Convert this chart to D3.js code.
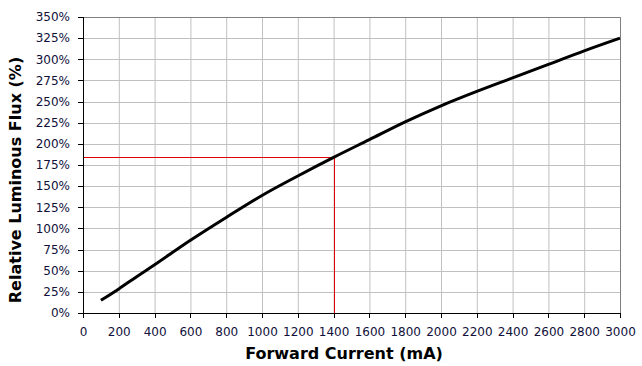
<!DOCTYPE html>
<html>
<head>
<meta charset="utf-8">
<script src="https://cdn.jsdelivr.net/npm/d3@7"></script>
<style>
  body { margin: 0; background: #fff; }
  svg { display: block; font-family: "DejaVu Sans", Verdana, sans-serif; }
</style>
</head>
<body>
<div id="vis1"></div>
<script>
// frame constants
const FRAME_WIDTH = 642;
const FRAME_HEIGHT = 366;
const MARGINS = {left: 83, right: 22, top: 17, bottom: 53};

const VIS_WIDTH = FRAME_WIDTH - MARGINS.left - MARGINS.right;
const VIS_HEIGHT = FRAME_HEIGHT - MARGINS.top - MARGINS.bottom;

// data
const currentMA = [100, 200, 300, 400, 600, 800, 1000, 1200, 1400, 1600, 1800, 2000, 2200, 2400, 2600, 2800, 3000];
const fluxPct   = [15, 28.5, 43, 57, 86, 113, 139, 162, 184, 205, 226, 245, 262, 278, 294, 310, 325];

const xTicks = d3.range(0, 3001, 200);
const yTicks = d3.range(0, 351, 25);

// annotation at 1400 mA
const markX = [1400];
const markY = [184];

const FRAME = d3.select("#vis1").append("svg")
                .attr("width", FRAME_WIDTH)
                .attr("height", FRAME_HEIGHT);

const X_SCALE = d3.scaleLinear().domain([0, 3000]).range([0, VIS_WIDTH]);
const Y_SCALE = d3.scaleLinear().domain([0, 350]).range([VIS_HEIGHT, 0]);

const G = FRAME.append("g")
               .attr("transform", "translate(" + MARGINS.left + "," + MARGINS.top + ")");

// grid
G.selectAll(".vgrid").data(xTicks.slice(1)).enter().append("line")
  .attr("x1", d => X_SCALE(d) + 0.5).attr("x2", d => X_SCALE(d) + 0.5)
  .attr("y1", 0).attr("y2", VIS_HEIGHT)
  .attr("stroke", "#c0c0c0").attr("stroke-width", 1);

G.selectAll(".hgrid").data(yTicks.slice(1)).enter().append("line")
  .attr("x1", 0).attr("x2", VIS_WIDTH)
  .attr("y1", d => Math.round(Y_SCALE(d)) + 0.5).attr("y2", d => Math.round(Y_SCALE(d)) + 0.5)
  .attr("stroke", "#c0c0c0").attr("stroke-width", 1);

// top / right border
G.append("path")
  .attr("d", "M0,0.5H" + (VIS_WIDTH + 0.5) + "V" + VIS_HEIGHT)
  .attr("fill", "none").attr("stroke", "#808080");

// red marker lines
G.append("line")
  .attr("x1", 0).attr("x2", X_SCALE(markX[0]))
  .attr("y1", Math.round(Y_SCALE(markY[0])) + 0.5).attr("y2", Math.round(Y_SCALE(markY[0])) + 0.5)
  .attr("stroke", "#e00000").attr("stroke-width", 1);
G.append("line")
  .attr("x1", Math.round(X_SCALE(markX[0])) + 0.5).attr("x2", Math.round(X_SCALE(markX[0])) + 0.5)
  .attr("y1", Y_SCALE(markY[0])).attr("y2", VIS_HEIGHT)
  .attr("stroke", "#e00000").attr("stroke-width", 1);

// curve
const line = d3.line()
  .x((d, i) => X_SCALE(currentMA[i]))
  .y((d, i) => Y_SCALE(fluxPct[i]))
  .curve(d3.curveCatmullRom.alpha(0.5));

G.append("path")
  .datum(fluxPct)
  .attr("d", line)
  .attr("fill", "none")
  .attr("stroke", "#000")
  .attr("stroke-width", 3)
  .attr("stroke-linejoin", "round");

// axes
const xAxis = G.append("g")
  .attr("transform", "translate(0," + VIS_HEIGHT + ")")
  .call(d3.axisBottom(X_SCALE).tickValues(xTicks).tickSize(5).tickPadding(9)
        .tickFormat(d3.format("d")));

const yAxis = G.append("g")
  .call(d3.axisLeft(Y_SCALE).tickValues(yTicks).tickSize(5).tickPadding(8)
        .tickFormat(d => d + "%"));

[xAxis, yAxis].forEach(a => {
  a.selectAll("path, line").attr("stroke", "#000").attr("shape-rendering", "crispEdges");
  a.selectAll("text").attr("font-size", "12px").attr("fill", "#10103a")
   .attr("font-family", "DejaVu Sans, Verdana, sans-serif");
});

// titles
FRAME.append("text")
  .attr("x", 344)
  .attr("y", 359)
  .attr("text-anchor", "middle")
  .attr("font-size", "16px").attr("font-weight", "bold").attr("fill", "#000")
  .text("Forward Current (mA)");

FRAME.append("text")
  .attr("transform", "translate(21,180) rotate(-90)")
  .attr("text-anchor", "middle")
  .attr("font-size", "16px").attr("font-weight", "bold").attr("fill", "#000")
  .text("Relative Luminous Flux (%)");
</script>
</body>
</html>
